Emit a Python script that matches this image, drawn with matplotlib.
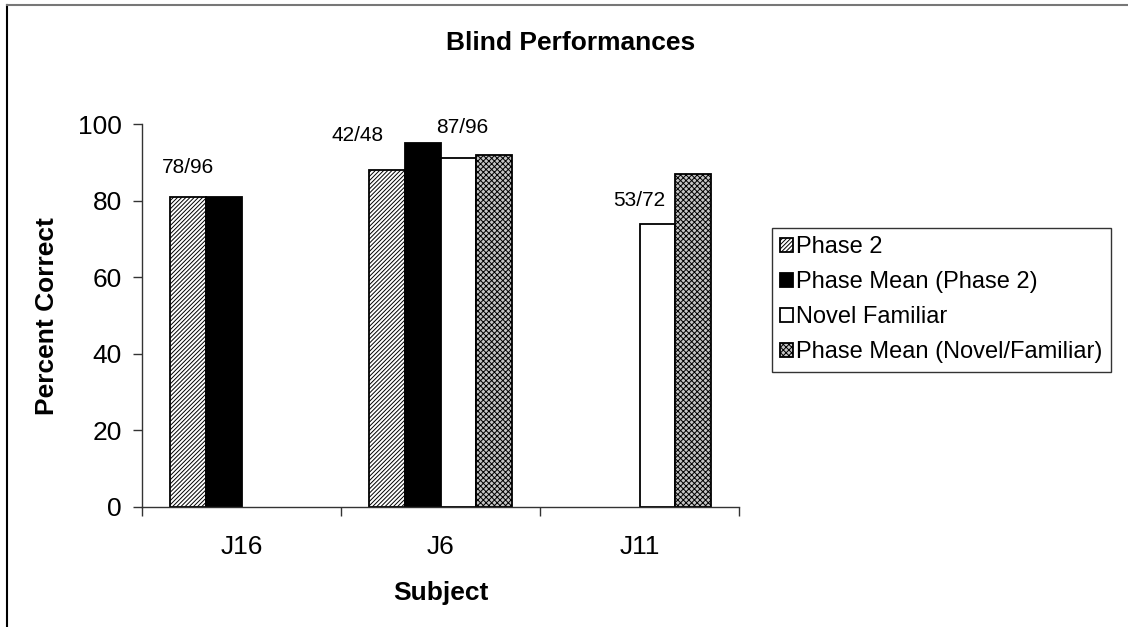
import numpy as np
import matplotlib
matplotlib.use("Agg")
import matplotlib.pyplot as plt
from matplotlib.ticker import FixedLocator, NullFormatter

plt.rcParams['font.family'] = ['Liberation Sans', 'DejaVu Sans']
plt.rcParams['hatch.linewidth'] = 0.7

subjects = ["J16", "J6", "J11"]
series_names = ["Phase 2", "Phase Mean (Phase 2)", "Novel Familiar",
                "Phase Mean (Novel/Familiar)"]
phase2 = [81, 88, np.nan]
phase_mean_p2 = [81, 95, np.nan]
novel_familiar = [np.nan, 91, 74]
phase_mean_nf = [np.nan, 92, 87]

# fraction labels: (series index, subject index, text)
label_series = [0, 0, 2, 2]
label_subject = [0, 1, 1, 2]
label_text = ["78/96", "42/48", "87/96", "53/72"]
label_shift = [(0, 29), (-29, 34), (4, 31), (-18, 23)]  # pixels

values = [phase2, phase_mean_p2, novel_familiar, phase_mean_nf]
faces = ["white", "black", "white", "#c4c4c4"]
hatches = ["////////", None, None, "xxxxxx"]

fig = plt.figure(figsize=(11.28, 6.27), dpi=100)
ax = fig.add_axes([0.1259, 0.1914, 0.5293, 0.6108])

x = np.arange(len(subjects))
width = 0.18
offsets = (np.arange(4) - 1.5) * width
for i, vals in enumerate(values):
    ax.bar(x + offsets[i], vals, width, color=faces[i], edgecolor="black",
           linewidth=1.3, hatch=hatches[i], label=series_names[i])

for s, c, t, (dx, dy) in zip(label_series, label_subject, label_text, label_shift):
    ax.annotate(t, (x[c] + offsets[s], values[s][c]), xytext=(dx, dy),
                textcoords="offset pixels", ha="center", va="center", fontsize=15)

ax.set_xlim(-0.5, 2.5)
ax.set_ylim(0, 100)
ax.set_yticks([0, 20, 40, 60, 80, 100])
ax.set_xticks(x)
ax.set_xticklabels(subjects)
ax.xaxis.set_minor_locator(FixedLocator([-0.5, 0.5, 1.5, 2.5]))
ax.xaxis.set_minor_formatter(NullFormatter())
ax.tick_params(axis="x", which="major", length=0, pad=20, labelsize=19)
ax.tick_params(axis="x", which="minor", length=6.5, width=1, color="#333333")
ax.tick_params(axis="y", length=6.5, width=1, pad=8, labelsize=19, color="#333333")
for side in ["top", "right"]:
    ax.spines[side].set_visible(False)
for side in ["left", "bottom"]:
    ax.spines[side].set_color("#333333")
    ax.spines[side].set_linewidth(1)

fig.text(0.506, 0.931, "Blind Performances", ha="center", va="center",
         fontsize=19, fontweight="bold")
fig.text(0.391, 0.054, "Subject", ha="center", va="center",
         fontsize=19, fontweight="bold")
fig.text(0.042, 0.496, "Percent Correct", ha="center", va="center",
         rotation=90, fontsize=19, fontweight="bold")

leg = fig.legend(loc="upper left", bbox_to_anchor=(0.684, 0.636), fontsize=17,
                 frameon=True, fancybox=False, edgecolor="black", borderpad=0.35,
                 labelspacing=0.55, handlelength=0.55, handleheight=0.55,
                 handletextpad=0.15, borderaxespad=0)
leg.get_frame().set_linewidth(1)

# chart area border
fig.add_artist(plt.Line2D([7 / 1128, 7 / 1128], [0, 1 - 5 / 627],
                          transform=fig.transFigure, color="black", lw=1.5))
fig.add_artist(plt.Line2D([7 / 1128, 1], [1 - 5 / 627, 1 - 5 / 627],
                          transform=fig.transFigure, color="#777777", lw=1.5))

fig.savefig("out.png", dpi=100)
